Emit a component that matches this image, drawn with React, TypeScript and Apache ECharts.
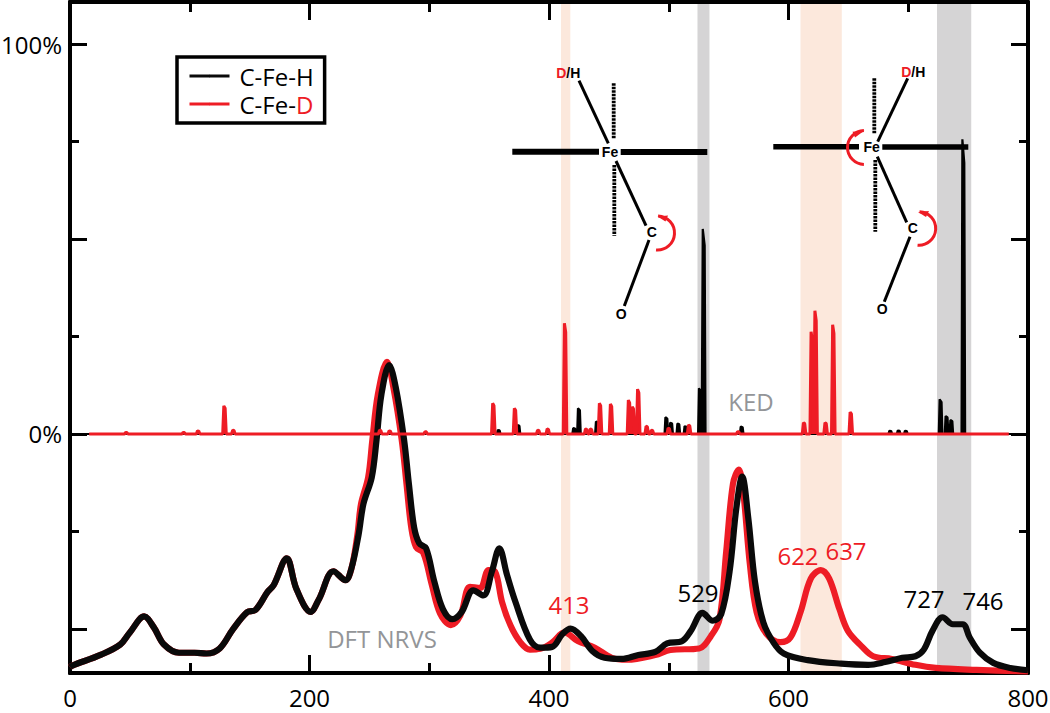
import React, { useEffect, useRef } from "react";
import * as echarts from "echarts";

type P = [number, number];

const nrvsShared: P[] = [[0, -59.8], [2, -59.4], [26, -56.6], [42, -54], [50, -50.9], [62, -46.8], [70, -49.6], [78.5, -54], [91, -56.1], [104, -56.1], [114, -56.3], [125, -55], [136, -50.1], [148, -45.7], [155, -45.1], [165, -40.5], [170, -38.8], [181, -31.9], [189, -39.7], [201, -45.6], [208, -42.3], [220, -35.2], [230, -37.5], [235, -34.5]];
const nrvsBlackMain: P[] = [[241, -25.8], [245, -18], [252, -11.1], [256, -1.5], [260, 10], [266.5, 17.7], [272, 12], [279, -1.5], [283, -12.8], [287.4, -24], [291.6, -28], [297.3, -29.3], [304.3, -37.9], [311.4, -44.9], [319.3, -47.5], [327, -45.7], [336.8, -40.1], [345.2, -41.4], [352.3, -35.3], [358.5, -29.3], [365, -36.2], [372, -43.1], [384, -52.7], [392.7, -54.8], [402.6, -54.6], [411, -51.4], [418, -49.9], [426.6, -51.8], [436.4, -55.7], [446.4, -57.4], [460.5, -57.7], [474.6, -56.7], [488.7, -55.9], [498.6, -53.7], [511.3, -53.1], [518.4, -50.5], [528.2, -45.9], [536.7, -47.9], [543.8, -46.2], [550.8, -35.3], [556.5, -18.9], [561.3, -10.9], [566.4, -21.5], [572, -37.9], [579, -48.3], [587.5, -53.5], [596, -56.3], [616, -58], [644, -58.9], [666.5, -59.2], [680.7, -58.5], [695, -57.4], [706, -57], [713, -55.3], [720.2, -50.5], [728.7, -47], [737.2, -48.8], [745.6, -48.8], [751.3, -52.2], [759.8, -56.1], [771, -58.7], [785.2, -60], [800, -60.6]];
const nrvsRedMain: P[] = [[240, -25.8], [243, -18], [249, -11.1], [252.5, -1.5], [257, 10], [264.7, 18.5], [270, 12], [277, -1.5], [281, -12.8], [285, -24], [289, -29], [295, -30.5], [302, -38.5], [309, -46], [318, -49], [326, -46.5], [334, -39.2], [342.5, -39.5], [349.5, -34.9], [355, -35.3], [360.8, -43.1], [368, -49.2], [376.3, -53.5], [384, -55.3], [392.7, -55.1], [402.6, -53.5], [413, -50.9], [424, -53.1], [438.3, -54.8], [452.4, -57.4], [465, -57.9], [488.7, -56.7], [501.4, -55.4], [525.4, -55], [535.3, -51.8], [542.4, -47.5], [548, -30.1], [553.6, -12.8], [558.5, -9.1], [562.1, -14.5], [567.8, -33.6], [573.4, -45.7], [581.9, -51.4], [593.2, -53.4], [601.6, -52.2], [610, -45.7], [618.6, -37.1], [627, -34.9], [634, -37.1], [642.5, -44.9], [649.6, -50.5], [660.9, -54.4], [670.8, -57], [686.3, -57.7], [706, -59.2], [723, -60], [757, -60.5], [800, -60.9]];

// KED stick positions (cm-1) and heights (%)
const kedBlackPeaks: P[] = [[358, 1], [374.5, 2.3], [421, 1.5], [425, 6.6], [440, 3.2], [498, 4.3], [502, 2.9], [508, 2.7], [514, 2], [526, 11.7], [529.2, 52.6], [560.9, 1.9], [685, 0.8], [692, 0.9], [698, 0.8], [727, 8.9], [732, 4.6], [736, 3.6], [746, 75.6]];
const kedRedPeaks: P[] = [[47, 0.4], [95, 0.4], [107, 0.8], [129, 7.2], [136.4, 1], [259, 1], [267, 0.8], [297, 0.6], [353.5, 7.9], [371.6, 6.6], [391, 1], [399, 1.3], [413.4, 28.4], [431, 1.3], [435, 1.3], [442.6, 7.9], [451.8, 7.7], [466.8, 8.7], [470, 7], [474.5, 11.5], [481.6, 2], [486, 1], [500, 1.5], [517, 2.3], [558, 0.6], [613, 2.9], [619.4, 26.2], [622.6, 31.6], [631, 2.9], [637.4, 28], [652, 5.6]];

const orangeBands: P[] = [[410, 417.8], [610, 644.5]];
const grayBands: P[] = [[524, 534], [724, 752.6]];
const xLabels = [0, 200, 400, 600, 800];
const yMajor = [-50, 0, 50, 100];
const yMinor = [-25, 25, 75];
const yLabelled = [0, 100];

const FONT = "Open Sans";
const MOL = "Liberation Sans";
const BLACK = "#0a0a0a";
const RED = "#ee1c25";
const GRAY = "#939598";

function sticks(peaks: P[], start: number, end: number, top: number): P[] {
  const out: P[] = [[start, 0]];
  peaks.forEach(([x, h]) => {
    out.push([x - 1.5, 0], [x - top, h], [x + top, h * 0.92], [x + 1.5, 0]);
  });
  out.push([end, 0]);
  return out;
}

const bandData = (b: P[], color: string) =>
  b.map(([a, c]) => [{ xAxis: a, itemStyle: { color } }, { xAxis: c }]);

const text = (t: string, x: number, y: number, fill: string, fontSize = 24, fontWeight: any = "normal", fontFamily = FONT) => ({
  type: "text", x, y, z: 20,
  style: { text: t, fill, fontSize, fontWeight, fontFamily, align: "center", verticalAlign: "middle" },
});
const seg = (x1: number, y1: number, x2: number, y2: number, lineWidth: number, dash?: number[]) => ({
  type: "line", z: 10,
  shape: { x1, y1, x2, y2 },
  style: { stroke: "#000", lineWidth, lineDash: dash },
});
const arc = (cx: number, cy: number, r: number, startDeg: number, endDeg: number) => ({
  type: "arc", z: 12,
  shape: { cx, cy, r, startAngle: (startDeg * Math.PI) / 180, endAngle: (endDeg * Math.PI) / 180, clockwise: true },
  style: { stroke: RED, lineWidth: 3, fill: "none" },
});
const head = (points: number[][]) => ({ type: "polygon", z: 12, shape: { points }, style: { fill: RED } });
const dh = (x: number, y: number) => ({
  type: "text", x, y, z: 20,
  style: {
    text: "{r|D}{k|/H}", align: "center", verticalAlign: "middle",
    rich: {
      r: { fill: RED, fontSize: 14, fontWeight: "bold", fontFamily: MOL },
      k: { fill: "#000", fontSize: 14, fontWeight: "bold", fontFamily: MOL },
    },
  },
});
const atom = (t: string, x: number, y: number) => text(t, x, y, "#000", 14, "bold", MOL);
const DOTS = [2.4, 1.1];

const graphicEls: any[] = [
  // first structure
  seg(512.3, 151.7, 599, 151.7, 6),
  seg(620.7, 152, 707.3, 152, 6),
  seg(579, 80.7, 608.3, 143.3, 3),
  seg(613.7, 83.3, 613.7, 138.3, 3.8, DOTS),
  seg(614.3, 165, 614.3, 235.7, 3.8, DOTS),
  seg(616, 161, 646, 225.7, 3),
  seg(649, 240, 624.3, 306, 3),
  atom("Fe", 610, 151.7), atom("C", 651.7, 232.3), atom("O", 621.3, 314), dh(568.3, 72.7),
  arc(657.5, 233, 17, -88, 95),
  head([[657.5, 216.5], [668, 215.5], [665.5, 221.5]]),
  // second structure
  seg(773.3, 146.7, 859, 146.7, 5.5),
  seg(882.3, 147, 968.3, 147, 5.5),
  seg(907.7, 78.3, 877.7, 141.7, 3),
  seg(874.3, 78.3, 874.3, 134, 3.8, DOTS),
  seg(875.3, 160, 875.3, 231.7, 3.8, DOTS),
  seg(877.3, 156.7, 906.7, 222.3, 3),
  seg(910, 236.7, 884.3, 301.7, 3),
  atom("Fe", 871.7, 147.3), atom("C", 912.7, 227.7), atom("O", 882.3, 309.3), dh(913.3, 71.7),
  arc(919, 228.5, 16.7, -88, 95),
  head([[918, 212], [929, 211], [926, 217]]),
  arc(864.5, 147.5, 17, 92, 268),
  head([[864.5, 130.5], [852.5, 131.7], [855, 137.5]]),
  // annotations
  text("413", 569, 604, RED),
  text("529", 698, 592, "#000"),
  text("622", 798, 555, RED),
  text("637", 846, 550, RED),
  text("727", 924, 598, "#000"),
  text("746", 983, 600, "#000"),
  text("DFT NRVS", 382, 638, GRAY),
  text("KED", 751, 401, GRAY),
];

const Y_MIN = -61.3;
const Y_MAX = 110.8;

const baseY = (position: string, customValues: number[], length: number, labelled = false) => ({
  type: "value", position, min: Y_MIN, max: Y_MAX, scale: true,
  splitLine: { show: false },
  axisLine: { show: true, onZero: false, lineStyle: { color: "#000", width: 4 } },
  axisTick: { show: true, inside: true, length, customValues, lineStyle: { color: "#000", width: 3 } },
  axisLabel: labelled
    ? { show: true, customValues: yLabelled, margin: 8, color: "#000", fontSize: 24, fontFamily: FONT, formatter: (v: number) => `${v}%` }
    : { show: false },
});
const baseX = (position: string, labelled: boolean) => ({
  type: "value", position, min: 0, max: 800, interval: 200,
  splitLine: { show: false },
  axisLine: { show: true, onZero: false, lineStyle: { color: "#000", width: 4 } },
  axisTick: { show: true, inside: true, length: 18, lineStyle: { color: "#000", width: 3 } },
  minorTick: { show: true, splitNumber: 2, length: 10, lineStyle: { color: "#000", width: 3 } },
  axisLabel: labelled
    ? { show: true, margin: 12, color: "#000", fontSize: 24, fontFamily: FONT, customValues: xLabels }
    : { show: false },
});

export default function App() {
  const ref = useRef<HTMLDivElement>(null);
  useEffect(() => {
    const chart = echarts.init(ref.current!, undefined, { renderer: "svg" });
    const line = (name: string, data: P[], color: string, z: number) => ({
      type: "line", name, data, z, smooth: 0.35, symbol: "none", silent: true,
      lineStyle: { color, width: 6.2, join: "round" }, itemStyle: { color },
    });
    const ked = (name: string, data: P[], color: string, z: number, width: number) => ({
      type: "line", name, data, z, symbol: "none", silent: true,
      lineStyle: { color, width }, itemStyle: { color },
      areaStyle: { color, opacity: 1, origin: 0 },
    });
    chart.setOption({
      animation: false,
      backgroundColor: "#fff",
      grid: { left: 70, right: 22, top: 2, bottom: 40, containLabel: false, outerBoundsMode: "none" },
      legend: {
        left: 177, top: 57, orient: "vertical", selectedMode: false,
        data: ["C-Fe-H", "C-Fe-D"],
        itemWidth: 40, itemHeight: 3, itemGap: 4,
        padding: [7, 11, 7, 11],
        borderColor: "#000", borderWidth: 3.5, backgroundColor: "#fff",
        lineStyle: { width: 3 },
        formatter: (n: string) => (n === "C-Fe-D" ? "{k|C-Fe-}{r|D}" : "{k|C-Fe-H}"),
        textStyle: {
          rich: {
            k: { color: "#000", fontSize: 24, fontFamily: FONT, lineHeight: 24, padding: [0, 0, 0, 5] },
            r: { color: RED, fontSize: 24, fontFamily: FONT, lineHeight: 24 },
          },
        },
      },
      xAxis: [baseX("bottom", true), baseX("top", false)],
      yAxis: [
        baseY("left", yMajor, 17, true),
        baseY("left", yMinor, 9),
        baseY("right", yMajor, 17),
        baseY("right", yMinor, 9),
      ],
      graphic: { elements: graphicEls },
      series: [
        {
          type: "line", data: [], z: 0, silent: true,
          markArea: {
            silent: true, z: 0,
            data: [...bandData(orangeBands, "#fce8dc"), ...bandData(grayBands, "#d5d4d5")],
          },
        },
        line("C-Fe-D", [...nrvsShared, ...nrvsRedMain], RED, 3),
        line("C-Fe-H", [...nrvsShared, ...nrvsBlackMain], BLACK, 4),
        ked("C-Fe-H", sticks(kedBlackPeaks, 0, 800, 0.8), "#000", 5, 2.2),
        ked("C-Fe-D", sticks(kedRedPeaks, 16, 784, 0.55), RED, 6, 3),
      ],
    });
    return () => chart.dispose();
  }, []);
  return <div ref={ref} style={{ position: "fixed", left: 0, top: 0, width: 1050, height: 713 }} />;
}
